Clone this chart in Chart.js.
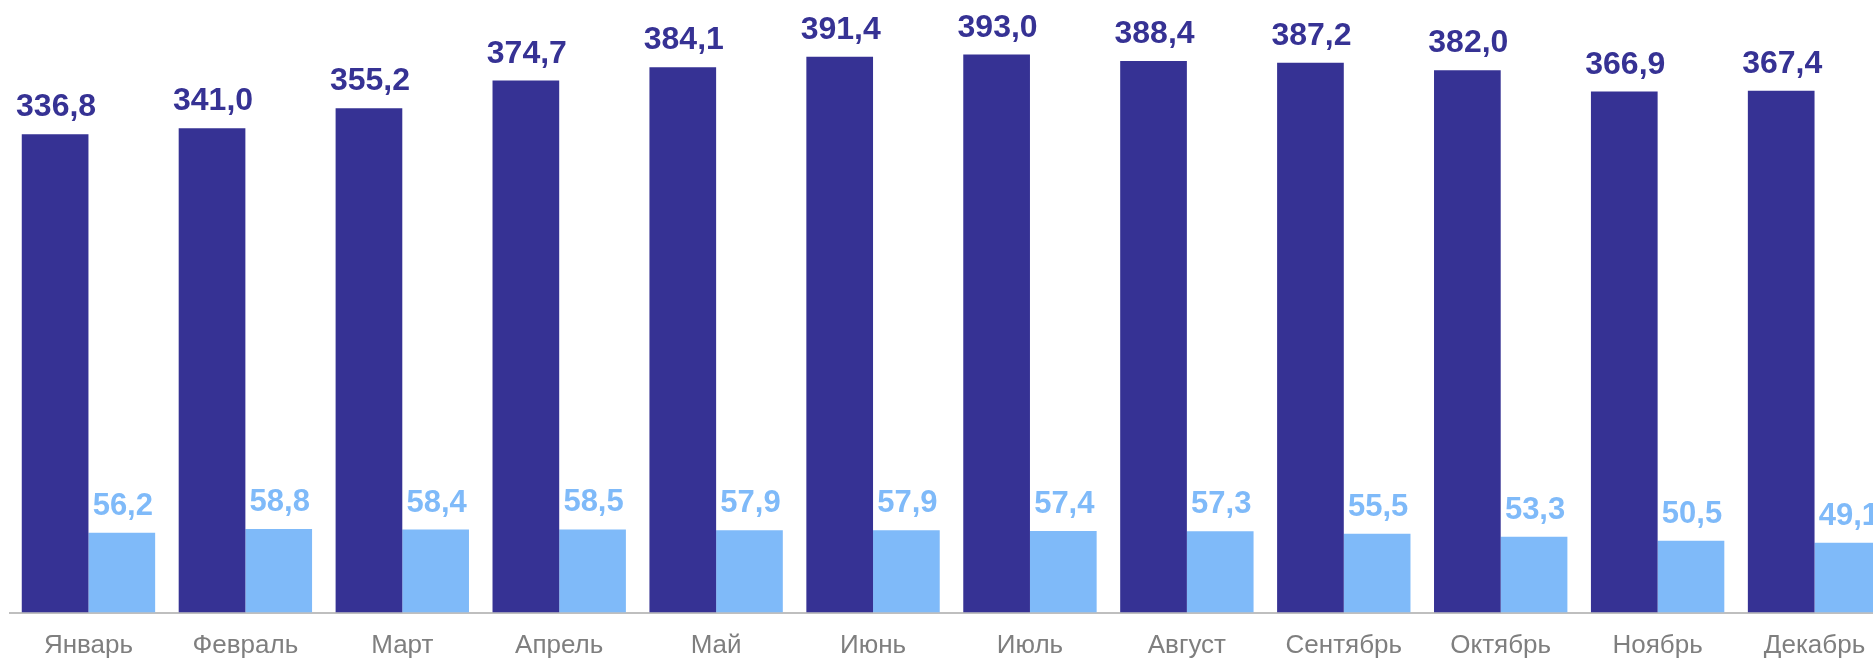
<!DOCTYPE html>
<html>
<head>
<meta charset="utf-8">
<script src="https://cdn.jsdelivr.net/npm/chart.js@4/dist/chart.umd.min.js"></script>
<style>
  html, body { margin: 0; padding: 0; overflow: hidden; background: #fff; }
  #wrap { position: absolute; left: 0; top: 0; width: 1900px; height: 659px; }
</style>
</head>
<body>
<div id="wrap"><canvas id="chart"></canvas></div>
<script>
const months = ['Январь', 'Февраль', 'Март', 'Апрель', 'Май', 'Июнь', 'Июль', 'Август', 'Сентябрь', 'Октябрь', 'Ноябрь', 'Декабрь'];
const seriesDark = [336.8, 341.0, 355.2, 374.7, 384.1, 391.4, 393.0, 388.4, 387.2, 382.0, 366.9, 367.4];
const seriesLight = [56.2, 58.8, 58.4, 58.5, 57.9, 57.9, 57.4, 57.3, 55.5, 53.3, 50.5, 49.1];

const darkColor = '#363294';
const lightColor = '#7fbaf9';
const labelSizes = [32, 31];

// value labels above bars, russian decimal comma
const barLabels = {
  id: 'barLabels',
  afterDatasetsDraw(chart) {
    const ctx = chart.ctx;
    ctx.save();
    ctx.textAlign = 'center';
    ctx.textBaseline = 'alphabetic';
    chart.data.datasets.forEach((ds, i) => {
      ctx.font = 'bold ' + labelSizes[i] + 'px "Liberation Sans", Arial, sans-serif';
      ctx.fillStyle = ds.backgroundColor;
      chart.getDatasetMeta(i).data.forEach((bar, j) => {
        const txt = ds.data[j].toFixed(1).replace('.', ',');
        ctx.fillText(txt, bar.x + 1, bar.y - 18);
      });
    });
    ctx.restore();
  }
};

new Chart(document.getElementById('chart'), {
  type: 'bar',
  data: {
    labels: months,
    datasets: [
      { data: seriesDark, backgroundColor: darkColor },
      { data: seriesLight, backgroundColor: lightColor }
    ]
  },
  options: {
    responsive: true,
    maintainAspectRatio: false,
    devicePixelRatio: 1,
    animation: false,
    layout: { padding: { left: 10, right: 7, top: 0, bottom: 0 } },
    datasets: { bar: { categoryPercentage: 0.85, barPercentage: 1.0 } },
    plugins: { legend: { display: false }, tooltip: { enabled: false } },
    scales: {
      x: {
        grid: { display: false },
        border: { display: true, color: '#bfbfbf', width: 2 },
        ticks: {
          color: '#7f7f7f',
          padding: 10,
          maxRotation: 0,
          autoSkip: false,
          font: { family: '"Liberation Sans", Arial, sans-serif', size: 26 }
        },
        afterFit(scale) { scale.height = 46.5; }
      },
      y: { display: false, min: 0, max: 431.4 }
    }
  },
  plugins: [barLabels]
});
</script>
</body>
</html>
